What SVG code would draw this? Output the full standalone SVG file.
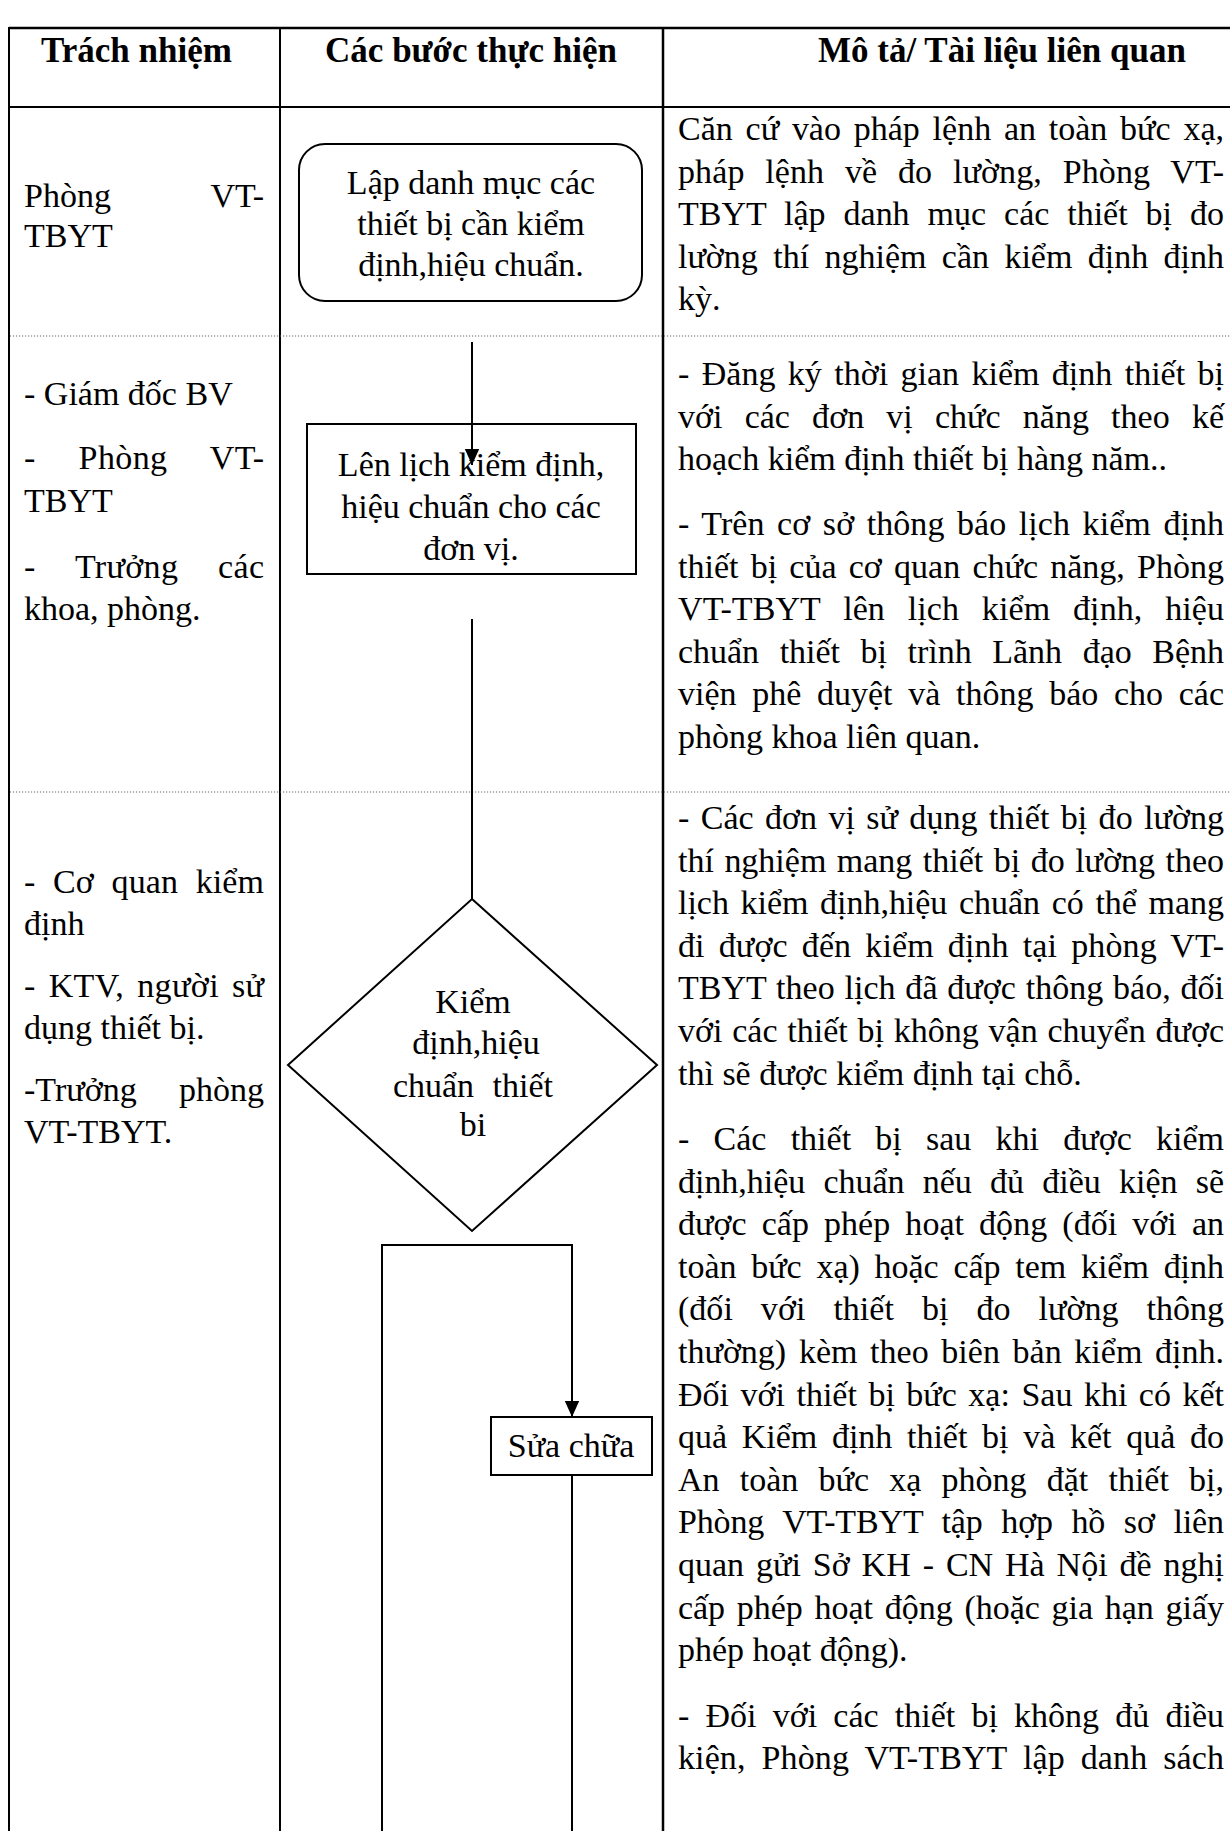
<svg xmlns="http://www.w3.org/2000/svg" width="1230" height="1831" viewBox="0 0 1230 1831">
<style>
.t{font-family:"Liberation Serif","Times New Roman",serif;font-size:34px;fill:#000}
.h{font-family:"Liberation Serif","Times New Roman",serif;font-size:35px;font-weight:bold;fill:#000}
.c{text-anchor:middle}
.e{text-anchor:end}
.ln{stroke:#000;stroke-width:2;fill:none}
.bd{stroke:#000;stroke-width:2.5;fill:none}
.dot{stroke:#666;stroke-width:1.2;stroke-dasharray:1.2 1.8;fill:none}
.shape{fill:#fff;stroke:#000;stroke-width:2}
</style>
<defs>
<marker id="arr" viewBox="0 0 10 10" refX="10" refY="5" markerWidth="8" markerHeight="8" markerUnits="strokeWidth" orient="auto"><path d="M0,0.5 L10,5 L0,9.5 z" fill="#000"/></marker>
</defs>
<rect width="1230" height="1831" fill="#fff"/>

<g id="table">
<line class="bd" x1="9" y1="28" x2="1230" y2="28"/>
<line class="ln" x1="9" y1="107" x2="1230" y2="107"/>
<line class="ln" x1="9" y1="27" x2="9" y2="1831"/>
<line class="ln" x1="280" y1="27" x2="280" y2="1831"/>
<line class="bd" x1="663" y1="27" x2="663" y2="1831"/>
<line class="dot" x1="10" y1="336" x2="1230" y2="336"/>
<line class="dot" x1="10" y1="792" x2="1230" y2="792"/>
</g>

<g id="header">
<text class="h" x="41" y="62">Trách nhiệm</text>
<text class="h c" x="471" y="62">Các bước thực hiện</text>
<text class="h" x="818" y="62">Mô tả/ Tài liệu liên quan</text>
</g>

<g id="responsibility">
<text class="t" x="24" y="207">Phòng</text>
<text class="t e" x="264" y="207">VT-</text>
<text class="t" x="24" y="247">TBYT</text>

<text class="t" x="24" y="405">- Giám đốc BV</text>
<text class="t" x="24" y="469" textLength="240" lengthAdjust="spacing" word-spacing="34">- Phòng VT-</text>
<text class="t" x="24" y="512">TBYT</text>
<text class="t" x="24" y="578" textLength="240" lengthAdjust="spacing" word-spacing="31">- Trưởng các</text>
<text class="t" x="24" y="620">khoa,  phòng.</text>

<text class="t" x="24" y="893" textLength="240" lengthAdjust="spacing" word-spacing="9">- Cơ quan kiểm</text>
<text class="t" x="24" y="935">định</text>
<text class="t" x="24" y="997" textLength="240" lengthAdjust="spacing" word-spacing="4">- KTV, người sử</text>
<text class="t" x="24" y="1039">dụng thiết bị.</text>
<text class="t" x="24" y="1101">-Trưởng</text>
<text class="t e" x="264" y="1101">phòng</text>
<text class="t" x="24" y="1143">VT-TBYT.</text>
</g>

<g id="description">
<text class="t" x="678" y="140" textLength="546" lengthAdjust="spacing" word-spacing="4.3">Căn cứ vào pháp lệnh an toàn bức xạ,</text>
<text class="t" x="678" y="182.6" textLength="546" lengthAdjust="spacing" word-spacing="12.1">pháp lệnh về đo lường, Phòng VT-</text>
<text class="t" x="678" y="225.2" textLength="546" lengthAdjust="spacing" word-spacing="9.5">TBYT lập danh mục các thiết bị đo</text>
<text class="t" x="678" y="267.8" textLength="546" lengthAdjust="spacing" word-spacing="6.9">lường thí nghiệm cần kiểm định định</text>
<text class="t" x="678" y="310.4">kỳ.</text>

<text class="t" x="678" y="385" textLength="546" lengthAdjust="spacing" word-spacing="3.9">- Đăng ký thời gian kiểm định thiết bị</text>
<text class="t" x="678" y="427.6" textLength="546" lengthAdjust="spacing" word-spacing="13.6">với các đơn vị chức năng theo kế</text>
<text class="t" x="678" y="470.2">hoạch kiểm định thiết bị hàng năm..</text>
<text class="t" x="678" y="535" textLength="546" lengthAdjust="spacing" word-spacing="4">- Trên cơ sở thông báo lịch kiểm định</text>
<text class="t" x="678" y="577.6" textLength="546" lengthAdjust="spacing" word-spacing="3.7">thiết bị của cơ quan chức năng, Phòng</text>
<text class="t" x="678" y="620.2" textLength="546" lengthAdjust="spacing" word-spacing="14.2">VT-TBYT lên lịch kiểm định, hiệu</text>
<text class="t" x="678" y="662.8" textLength="546" lengthAdjust="spacing" word-spacing="12.2">chuẩn thiết bị trình Lãnh đạo Bệnh</text>
<text class="t" x="678" y="705.4" textLength="546" lengthAdjust="spacing" word-spacing="7.3">viện phê duyệt và thông báo cho các</text>
<text class="t" x="678" y="748">phòng khoa liên quan.</text>

<text class="t" x="678" y="829" textLength="546" lengthAdjust="spacing" word-spacing="2.8">- Các đơn vị sử dụng thiết bị đo lường</text>
<text class="t" x="678" y="871.6" textLength="546" lengthAdjust="spacing" word-spacing="2">thí nghiệm mang thiết bị đo lường theo</text>
<text class="t" x="678" y="914.2" textLength="546" lengthAdjust="spacing" word-spacing="3.2">lịch kiểm định,hiệu chuẩn có thể mang</text>
<text class="t" x="678" y="956.8" textLength="546" lengthAdjust="spacing" word-spacing="5.5">đi được đến kiểm định tại phòng VT-</text>
<text class="t" x="678" y="999.4" textLength="546" lengthAdjust="spacing" word-spacing="1.3">TBYT theo lịch đã được thông báo, đối</text>
<text class="t" x="678" y="1042" textLength="546" lengthAdjust="spacing" word-spacing="1.2">với các thiết bị không vận chuyển được</text>
<text class="t" x="678" y="1084.6">thì sẽ được kiểm định tại chỗ.</text>
<text class="t" x="678" y="1150" textLength="546" lengthAdjust="spacing" word-spacing="15.7">- Các thiết bị sau khi được kiểm</text>
<text class="t" x="678" y="1192.6" textLength="546" lengthAdjust="spacing" word-spacing="9.8">định,hiệu chuẩn nếu đủ điều kiện sẽ</text>
<text class="t" x="678" y="1235.2" textLength="546" lengthAdjust="spacing" word-spacing="6.6">được cấp phép hoạt động (đối với an</text>
<text class="t" x="678" y="1277.8" textLength="546" lengthAdjust="spacing" word-spacing="6.3">toàn bức xạ) hoặc cấp tem kiểm định</text>
<text class="t" x="678" y="1320.4" textLength="546" lengthAdjust="spacing" word-spacing="19.5">(đối với thiết bị đo lường thông</text>
<text class="t" x="678" y="1363" textLength="546" lengthAdjust="spacing" word-spacing="4.2">thường) kèm theo biên bản kiểm định.</text>
<text class="t" x="678" y="1405.6" textLength="546" lengthAdjust="spacing" word-spacing="3">Đối với thiết bị bức xạ: Sau khi có kết</text>
<text class="t" x="678" y="1448.2" textLength="546" lengthAdjust="spacing" word-spacing="6.3">quả Kiểm định thiết bị và kết quả đo</text>
<text class="t" x="678" y="1490.8" textLength="546" lengthAdjust="spacing" word-spacing="11.8">An toàn bức xạ phòng đặt thiết bị,</text>
<text class="t" x="678" y="1533.4" textLength="546" lengthAdjust="spacing" word-spacing="10.3">Phòng VT-TBYT tập hợp hồ sơ liên</text>
<text class="t" x="678" y="1576" textLength="546" lengthAdjust="spacing" word-spacing="3.4">quan gửi Sở KH - CN Hà Nội đề nghị</text>
<text class="t" x="678" y="1618.6" textLength="546" lengthAdjust="spacing" word-spacing="3.3">cấp phép hoạt động (hoặc gia hạn giấy</text>
<text class="t" x="678" y="1661.2">phép hoạt động).</text>
<text class="t" x="678" y="1726.6" textLength="546" lengthAdjust="spacing" word-spacing="7.7">- Đối với các thiết bị không đủ điều</text>
<text class="t" x="678" y="1769.2" textLength="546" lengthAdjust="spacing" word-spacing="7.4">kiện, Phòng VT-TBYT lập danh sách</text>
</g>

<g id="connectors">
<line class="ln" x1="472" y1="342" x2="472" y2="465" marker-end="url(#arr)"/>
<line class="ln" x1="472" y1="619" x2="472" y2="899"/>
<polyline class="ln" points="382,1831 382,1245 572,1245 572,1417" marker-end="url(#arr)"/>
<line class="ln" x1="572" y1="1475" x2="572" y2="1831"/>
</g>

<g id="node-lap-danh-muc">
<rect class="shape" x="299" y="144" width="343" height="157" rx="26" ry="26"/>
<text class="t c" x="471" y="194">Lập danh mục các</text>
<text class="t c" x="471" y="235">thiết bị cần kiểm</text>
<text class="t c" x="471" y="276">định,hiệu chuẩn.</text>
</g>

<g id="node-len-lich">
<rect class="shape" x="307" y="424" width="329" height="150" fill-opacity="0"/>
<text class="t c" x="471" y="476">Lên lịch kiểm định,</text>
<text class="t c" x="471" y="518">hiệu chuẩn cho các</text>
<text class="t c" x="471" y="560">đơn vị.</text>
</g>

<g id="node-kiem-dinh">
<polygon class="shape" points="472,899 657,1065 472,1231 288,1065"/>
<text class="t c" x="473" y="1013">Kiểm</text>
<text class="t c" x="476" y="1054">định,hiệu</text>
<text class="t c" x="473" y="1097" word-spacing="10">chuẩn thiết</text>
<text class="t c" x="473" y="1136">bi</text>
</g>

<g id="node-sua-chua">
<rect class="shape" x="491" y="1417" width="161" height="58"/>
<text class="t c" x="571" y="1457">Sửa chữa</text>
</g>
</svg>
